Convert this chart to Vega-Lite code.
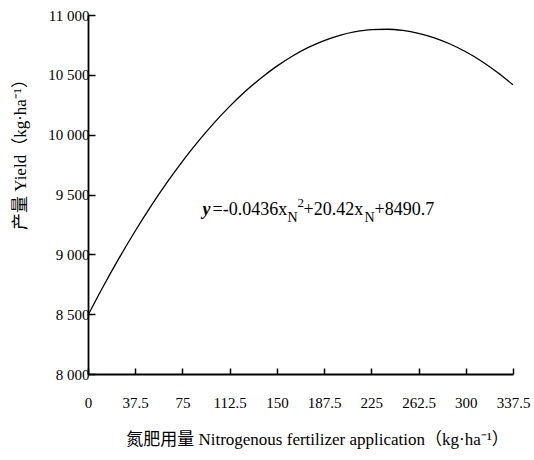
{
  "$schema": "https://vega.github.io/schema/vega-lite/v6.json",
  "width": 425,
  "height": 359,
  "autosize": {"type": "none"},
  "padding": {"left": 88, "top": 15, "right": 21, "bottom": 86},
  "background": "white",
  "config": {
    "view": {"stroke": null},
    "font": "Liberation Serif",
    "text": {"font": "Liberation Serif", "color": "black", "align": "left", "baseline": "alphabetic", "fontSize": 18},
    "axis": {
      "domainColor": "black",
      "domainWidth": 1.8,
      "tickColor": "black",
      "tickWidth": 1.5,
      "grid": false,
      "labelColor": "black",
      "labelFont": "Liberation Serif",
      "labelFontSize": 15,
      "titleColor": "black",
      "titleFont": "Liberation Serif, Noto Sans CJK SC",
      "titleFontSize": 17,
      "titleFontWeight": "normal"
    }
  },
  "datasets": {
    "curve": [
      {"n": 0, "yield": 8490.7},
      {"n": 12.5, "yield": 8739.1},
      {"n": 25, "yield": 8974.0},
      {"n": 37.5, "yield": 9195.1},
      {"n": 50, "yield": 9402.7},
      {"n": 62.5, "yield": 9596.6},
      {"n": 75, "yield": 9777.0},
      {"n": 87.5, "yield": 9943.6},
      {"n": 100, "yield": 10096.7},
      {"n": 112.5, "yield": 10236.1},
      {"n": 125, "yield": 10362.0},
      {"n": 137.5, "yield": 10474.1},
      {"n": 150, "yield": 10572.7},
      {"n": 162.5, "yield": 10657.6},
      {"n": 175, "yield": 10729.0},
      {"n": 187.5, "yield": 10786.6},
      {"n": 200, "yield": 10830.7},
      {"n": 212.5, "yield": 10861.1},
      {"n": 225, "yield": 10878.0},
      {"n": 237.5, "yield": 10881.1},
      {"n": 250, "yield": 10870.7},
      {"n": 262.5, "yield": 10846.6},
      {"n": 275, "yield": 10809.0},
      {"n": 287.5, "yield": 10757.6},
      {"n": 300, "yield": 10692.7},
      {"n": 312.5, "yield": 10614.1},
      {"n": 325, "yield": 10522.0},
      {"n": 337.5, "yield": 10416.1}
    ],
    "eq": [
      {"n": 91, "yield": 9330}
    ]
  },
  "layer": [
    {
      "data": {"name": "curve"},
      "mark": {"type": "line", "color": "black", "strokeWidth": 1.3, "interpolate": "monotone"},
      "encoding": {
        "x": {
          "field": "n", "type": "quantitative",
          "scale": {"domain": [0, 337.5], "nice": false, "zero": false},
          "axis": {
            "values": [0, 37.5, 75, 112.5, 150, 187.5, 225, 262.5, 300, 337.5],
            "tickSize": -6,
            "labelPadding": 27,
            "labelExpr": "format(datum.value, '.1~f')",
            "labelFlush": false,
            "labelOverlap": false,
            "title": "氮肥用量  Nitrogenous fertilizer application（kg·ha⁻¹）",
            "titlePadding": 21,
            "titleX": 229
          }
        },
        "y": {
          "field": "yield", "type": "quantitative",
          "scale": {"domain": [8000, 11000], "nice": false, "zero": false},
          "axis": {
            "values": [8000, 8500, 9000, 9500, 10000, 10500, 11000],
            "tickSize": -7,
            "labelPadding": 6,
            "labelExpr": "replace(format(datum.value, ','), ',', ' ')",
            "labelFlush": false,
            "labelOverlap": false,
            "title": "产量  Yield（kg·ha⁻¹）",
            "titlePadding": 18,
            "titleY": 135
          }
        }
      }
    },
    {
      "data": {"name": "eq"},
      "mark": {"type": "text", "text": "y", "fontStyle": "italic", "fontWeight": "bold", "dx": 0},
      "encoding": {"x": {"field": "n", "type": "quantitative"}, "y": {"field": "yield", "type": "quantitative"}}
    },
    {
      "data": {"name": "eq"},
      "mark": {"type": "text", "text": "=-0.0436x", "dx": 10},
      "encoding": {"x": {"field": "n", "type": "quantitative"}, "y": {"field": "yield", "type": "quantitative"}}
    },
    {
      "data": {"name": "eq"},
      "mark": {"type": "text", "text": "N", "dx": 85, "dy": 7, "fontSize": 14},
      "encoding": {"x": {"field": "n", "type": "quantitative"}, "y": {"field": "yield", "type": "quantitative"}}
    },
    {
      "data": {"name": "eq"},
      "mark": {"type": "text", "text": "2", "dx": 95, "dy": -8, "fontSize": 13},
      "encoding": {"x": {"field": "n", "type": "quantitative"}, "y": {"field": "yield", "type": "quantitative"}}
    },
    {
      "data": {"name": "eq"},
      "mark": {"type": "text", "text": "+20.42x", "dx": 101},
      "encoding": {"x": {"field": "n", "type": "quantitative"}, "y": {"field": "yield", "type": "quantitative"}}
    },
    {
      "data": {"name": "eq"},
      "mark": {"type": "text", "text": "N", "dx": 162, "dy": 7, "fontSize": 14},
      "encoding": {"x": {"field": "n", "type": "quantitative"}, "y": {"field": "yield", "type": "quantitative"}}
    },
    {
      "data": {"name": "eq"},
      "mark": {"type": "text", "text": "+8490.7", "dx": 172},
      "encoding": {"x": {"field": "n", "type": "quantitative"}, "y": {"field": "yield", "type": "quantitative"}}
    }
  ]
}
